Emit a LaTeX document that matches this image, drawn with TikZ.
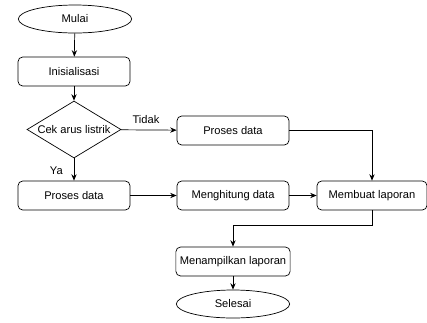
\documentclass[tikz,border=0pt]{standalone}
\usepackage{fontspec}
\setmainfont{Liberation Sans}
\usepackage{tikz}
\usetikzlibrary{shapes.geometric,arrows.meta}

\begin{document}
\begin{tikzpicture}[
    x=0.03cm, y=-0.03cm,
    font=\fontsize{9.5}{11}\selectfont,
    box/.style={draw, rectangle, rounded corners=4pt, line width=0.6pt, minimum width=3.36cm, minimum height=0.87cm},
    terminal/.style={draw, ellipse, line width=0.6pt, minimum width=3.4cm, minimum height=0.84cm},
    decision/.style={draw, diamond, aspect=1.65, inner sep=0pt, line width=0.6pt, minimum width=2.82cm, minimum height=1.71cm},
    arrow/.style={-{Stealth[length=5.5pt,width=4.5pt]}, line width=0.6pt}
]
\useasboundingbox (0,0) rectangle (427,322);

\node[terminal] (mulai) at (75,19) {Mulai};
\node[box] (init) at (74,71.5) {Inisialisasi};
\node[decision] (cek) at (74,129.5) {Cek arus listrik};
\node[box] (proses1) at (233,130.5) {Proses data};
\node[box] (proses2) at (74,195.5) {Proses data};
\node[box] (hitung) at (233,195.5) {Menghitung data};
\node[box, minimum width=3.3cm] (laporan) at (372,195.5) {Membuat laporan};
\node[box] (tampil) at (233,261.5) {Menampilkan laporan};
\node[terminal] (selesai) at (233,304) {Selesai};

% main line
\draw[arrow] (mulai) -- (init);
\draw[arrow] (init) -- (cek);
\draw[arrow] (cek) -- node[pos=0.55, left=6pt] {Ya} (proses2);
\draw[arrow] (cek) -- node[above, pos=0.45, yshift=2pt] {Tidak} (proses1);
\draw[arrow] (proses2) -- (hitung);
\draw[arrow] (hitung) -- (laporan);
\draw[arrow] (proses1) -| (laporan);

% to the end
\draw[arrow] (laporan.south) -- ++(0,15) -| (tampil.north);
\draw[arrow] (tampil) -- (selesai);

\end{tikzpicture}
\end{document}
